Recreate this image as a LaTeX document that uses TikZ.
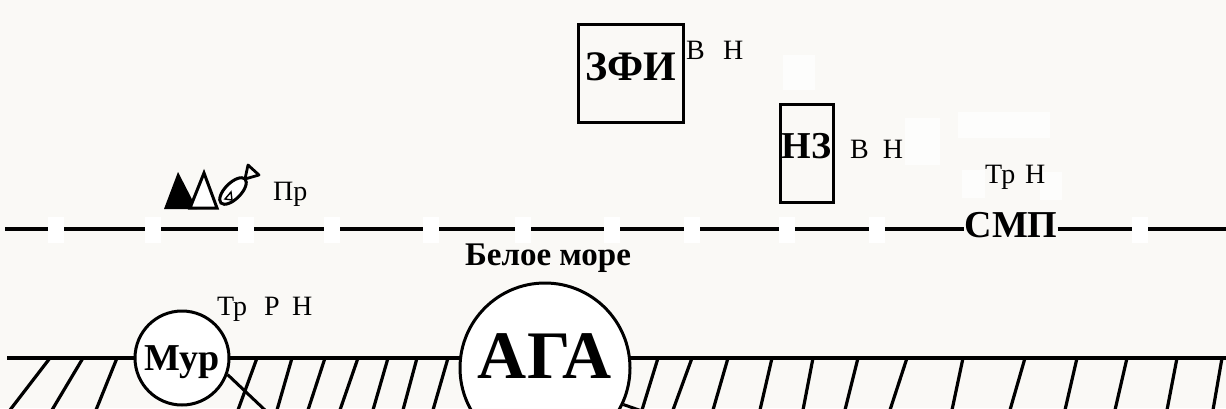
\documentclass[tikz,border=0pt]{standalone}
\usepackage{fontspec}
\setmainfont{Liberation Serif}
\usetikzlibrary{positioning,calc}
\definecolor{paper}{RGB}{250,249,246}

\begin{document}
\begin{tikzpicture}[x=1pt,y=-1pt,
  region/.style={draw,line width=3pt,inner sep=0pt},
  ring/.style={circle,draw,fill=white,line width=3pt,inner sep=0pt},
  bold name/.style={font=\bfseries\fontsize{#1}{#1}\selectfont},
  bold name/.default=38,
  tag/.style={font=\fontsize{28}{28}\selectfont,inner sep=0pt,anchor=base west},
  coast/.style={line width=3.5pt},
  hatch/.style={line width=3.2pt},
  gap/.style={fill=white,draw=none}]
  \fill[paper] (0,0) rectangle (1226,408);
  \useasboundingbox (0,0) rectangle (1226,408);
  \clip (0,0) rectangle (1226,408);
  % erased patches
  \foreach \a/\b/\c/\d in {783/55/815/90,905/118/940/165,958/112/1050/138,
      962/170/985/198,1040/172/1062/200}
    \fill[gap,opacity=0.7] (\a,\b) rectangle (\c,\d);
  % islands
  \node[region,bold name=42,minimum width=105pt,minimum height=98pt,
        text height=28pt,text depth=14pt] (zfi) at (630.5,73) {ЗФИ};
  \node[tag] (zfitag) at (686,59) {В\hspace{0.65em}Н};
  \node[region,bold name,minimum width=53pt,minimum height=98pt,
        text height=25pt,text depth=15pt] (nz) at (806.5,153) {НЗ};
  \node[tag] (nztag) at (850,158) {В\hspace{0.5em}Н};
  % sea border
  \coordinate (seaW) at (5,229);
  \coordinate (seaE) at (1226,229);
  \node[bold name,fill=paper,inner sep=0pt,anchor=base] (smp) at (1011,237) {СМП};
  \node[tag] (smptag) at (985,183) {Тр\hspace{0.35em}Н};
  \draw[coast] (seaW) -- (seaW -| smp.west) (seaE -| smp.east) -- (seaE);
  \foreach \g in {56,153,246,332,431,523,612,692,787,877,1140}
    \fill[gap] (\g-8,217) rectangle (\g+8,243);
  \node[bold name=33,inner sep=0pt,anchor=base] (sea) at (548,265) {Белое море};
  % mountains and fish
  \fill (164,209) -- (178,172) -- (197,209) -- cycle;
  \draw[line width=3pt,fill=white,line join=miter] (190,208) -- (204,173) -- (217,208) -- cycle;
  \draw[line width=3pt,fill=white,rotate around={45:(233,191)}]
    (233,191) ellipse [x radius=17pt,y radius=8pt];
  \draw[line width=2.8pt,line join=round] (245,179) -- (248,165) -- (259,175) -- cycle;
  \draw[line width=1.4pt] (225,199) -- (231,192) -- (232,200) -- cycle;
  \node[tag] (prtag) at (273,200) {Пр};
  % coast
  \coordinate (coastW) at (7,358);
  \coordinate (coastE) at (1226,358);
  \foreach \t/\b in {50/10,83/52,117/96,257/238,292/277,325/308,358/340,
      388/373,417/403,448/433,658/642,692/673,728/713,772/760,813/803,
      858/845,907/890,963/952,1025/1010,1077/1065,1127/1115,1177/1167,1222/1213}
    \draw[hatch] (\t,358) -- (\b,410);
  \draw[coast] (coastW) -- (coastE);
  \node[ring,bold name,minimum size=94pt,text height=25pt,text depth=0pt]
    (mur) at (182,358) {Мур};
  \node[tag] (murtag) at (217,315) {Тр\hspace{0.6em}Р\hspace{0.45em}Н};
  \node[ring,bold name=68,minimum size=170pt,text height=45pt,text depth=24pt]
    (aga) at (545,368) {АГА};
  \coordinate (murend) at (266,411);
  \coordinate (agaend) at (642,411);
  \draw[line width=3pt] (mur.-20) -- (murend);
  \draw[line width=3pt] (aga.-25) -- (agaend);
\end{tikzpicture}
\end{document}
